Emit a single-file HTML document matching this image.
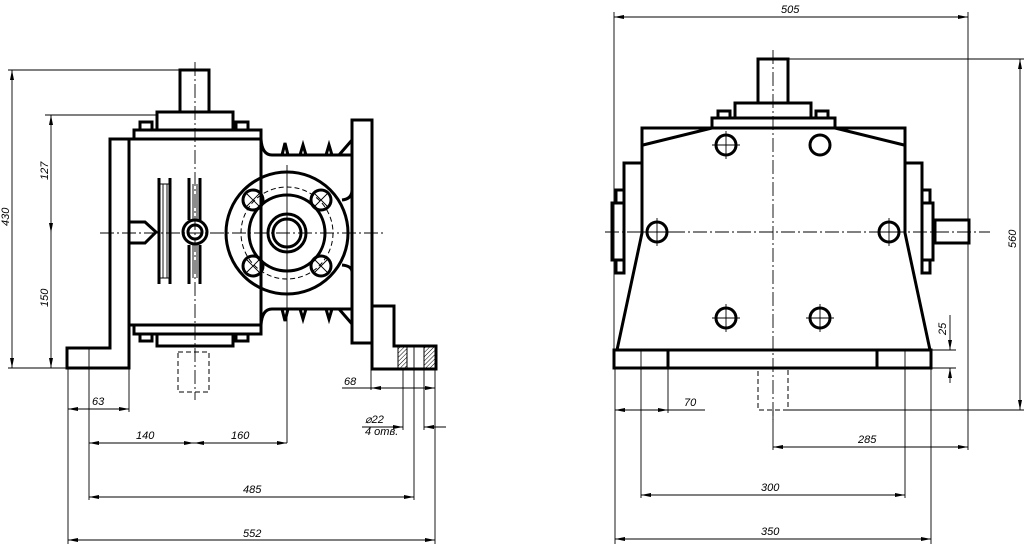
<!DOCTYPE html>
<html><head><meta charset="utf-8"><style>
html,body{margin:0;padding:0;background:#fff;width:1024px;height:544px;overflow:hidden}
svg{display:block}
text{font-family:"Liberation Sans",sans-serif;font-style:italic;font-size:11px;fill:#000}
.k{stroke:#000;stroke-width:3;fill:none}
.t{stroke:#000;stroke-width:0.9;fill:none}
.c{stroke:#000;stroke-width:0.9;fill:none;stroke-dasharray:14 3 2 3}
.d{stroke:#000;stroke-width:1;fill:none;stroke-dasharray:5 3}
</style></head><body>
<svg width="1024" height="544" viewBox="0 0 1024 544">
<defs><marker id="a" viewBox="0 0 10 4" refX="10" refY="2" markerWidth="12" markerHeight="4" orient="auto-start-reverse" markerUnits="userSpaceOnUse"><path d="M0,0 L10,2 L0,4z"/></marker>
<pattern id="h" width="3" height="3" patternUnits="userSpaceOnUse" patternTransform="rotate(45)"><line x1="0" y1="0" x2="0" y2="3" stroke="#000" stroke-width="1"/></pattern></defs>

<!-- ===== LEFT VIEW ===== -->
<g>
<rect class="k" x="180" y="70" width="29" height="42"/>
<rect class="k" x="157" y="112" width="76" height="18"/>
<rect class="k" x="134" y="130" width="127" height="9"/>
<rect class="k" x="140" y="122" width="12" height="8"/><rect class="k" x="236" y="122" width="12" height="8"/>
<rect class="k" x="129" y="139" width="132" height="186"/>
<rect class="k" x="134" y="325" width="127" height="9"/>
<rect class="k" x="157" y="334" width="76" height="12"/>
<rect class="k" x="140" y="334" width="12" height="7"/><rect class="k" x="236" y="334" width="12" height="7"/>
<path class="k" d="M129,139 H110 V348 H67 V368 H129 V325"/>
<path class="k" d="M261,139 Q262,155 272,155 H352 M261,325 Q262,309 272,309 H352"/>
<path class="k" d="M352,120 H372 V343 H352 Z"/>
<path class="k" d="M352,155 V190 Q352,199 342,200 M352,309 V272 Q352,266 342,265"/>
<path class="k" d="M372,306 H394 V346 H436 V369 H372 Z"/>
<rect x="398" y="347" width="9" height="21" fill="url(#h)" stroke="#000"/>
<rect x="424" y="347" width="11" height="21" fill="url(#h)" stroke="#000"/>
<line class="t" x1="414" y1="347" x2="414" y2="369"/><line class="t" x1="424" y1="347" x2="424" y2="369"/>
<path class="k" d="M282,155 l3,-12 l3,12 M300,155 l3,-10 l3,10 M326,155 l3,-10 l3,10 M339,155 l13,-15 M282,309 l3,12 l3,-12 M300,309 l3,10 l3,-10 M326,309 l3,10 l3,-10 M339,309 l13,15"/>
<circle class="k" cx="287" cy="233" r="61"/>
<circle class="d" cx="287" cy="233" r="46"/>
<circle class="k" cx="287" cy="233" r="38"/>
<circle class="k" cx="287" cy="233" r="19"/>
<circle class="k" cx="287" cy="233" r="14"/>
<g class="k"><circle cx="253" cy="200" r="10"/><circle cx="321" cy="200" r="10"/><circle cx="253" cy="266" r="10"/><circle cx="321" cy="266" r="10"/></g>
<g class="t"><path d="M247,194 l12,12 M259,194 l-12,12 M315,194 l12,12 M327,194 l-12,12 M247,260 l12,12 M259,260 l-12,12 M315,260 l12,12 M327,260 l-12,12"/></g>
<path class="k" d="M159,178 V284 M170,178 V284 M189,178 V220 M189,245 V284 M200,178 V220 M200,245 V284"/>
<path class="t" d="M163,184 V278 M167,184 V278 M159,184 H170 M159,278 H170 M193,184 V220 M197,184 V220 M193,245 V278 M197,245 V278"/>
<circle class="k" cx="195" cy="232" r="12"/><circle class="k" cx="195" cy="232" r="7"/>
<path class="k" d="M130,222 H145 L156,232 L145,243 H130"/>
<rect class="d" x="178" y="352" width="31" height="40"/>
<line class="c" x1="195" y1="62" x2="195" y2="400"/>
<line class="c" x1="100" y1="233" x2="384" y2="233"/>
<line class="t" x1="287" y1="165" x2="287" y2="443"/>
</g>

<!-- left dims -->
<g class="t">
<line x1="8" y1="70" x2="180" y2="70"/><line x1="45" y1="115" x2="157" y2="115"/><line x1="8" y1="368" x2="67" y2="368"/>
<line x1="12" y1="70" x2="12" y2="368" marker-start="url(#a)" marker-end="url(#a)"/>
<line x1="51" y1="115" x2="51" y2="233" marker-start="url(#a)" marker-end="url(#a)"/>
<line x1="51" y1="233" x2="51" y2="368" marker-end="url(#a)"/>
<line x1="68" y1="368" x2="68" y2="544"/><line x1="89" y1="348" x2="89" y2="500"/><line x1="129" y1="368" x2="129" y2="412"/>
<line x1="414" y1="369" x2="414" y2="500"/><line x1="435" y1="369" x2="435" y2="544"/><line x1="403" y1="369" x2="403" y2="430"/><line x1="424" y1="369" x2="424" y2="430"/><line x1="371" y1="369" x2="371" y2="390"/>
<line x1="68" y1="409" x2="129" y2="409" marker-start="url(#a)" marker-end="url(#a)"/>
<line x1="89" y1="443" x2="194" y2="443" marker-start="url(#a)" marker-end="url(#a)"/>
<line x1="194" y1="443" x2="287" y2="443" marker-start="url(#a)" marker-end="url(#a)"/>
<line x1="89" y1="497" x2="414" y2="497" marker-start="url(#a)" marker-end="url(#a)"/>
<line x1="68" y1="540" x2="435" y2="540" marker-start="url(#a)" marker-end="url(#a)"/>
<line x1="342" y1="388" x2="371" y2="388"/><line x1="371" y1="388" x2="435" y2="388" marker-start="url(#a)" marker-end="url(#a)"/>
<line x1="362" y1="427" x2="403" y2="427" marker-end="url(#a)"/><line x1="424" y1="427" x2="446" y2="427" marker-start="url(#a)"/>
</g>
<text x="9" y="226" transform="rotate(-90 9 226)" font-size="10">430</text>
<text x="48" y="180" transform="rotate(-90 48 180)" font-size="10">127</text>
<text x="48" y="307" transform="rotate(-90 48 307)" font-size="10">150</text>
<text x="92" y="405" font-size="10">63</text>
<text x="136" y="439" font-size="10">140</text>
<text x="231" y="439" font-size="10">160</text>
<text x="243" y="493" font-size="10">485</text>
<text x="243" y="537" font-size="10">552</text>
<text x="344" y="385" font-size="10">68</text>
<text x="365" y="423" font-size="9">⌀22</text>
<text x="365" y="435" font-size="9">4 отв.</text>

<!-- ===== RIGHT VIEW ===== -->
<g>
<rect class="k" x="758" y="59" width="30" height="44"/>
<rect class="k" x="735" y="103" width="76" height="15"/>
<rect class="k" x="712" y="118" width="123" height="10"/>
<rect class="k" x="718" y="111" width="12" height="7"/><rect class="k" x="816" y="111" width="12" height="7"/>
<path class="k" d="M642,128 H905 V233 L930,350 H617 L642,233 Z"/>
<path class="k" d="M643,145 L712,128 M904,145 L835,128"/>
<path class="k" d="M642,163 H624 V270 M905,163 H922 V270"/>
<rect class="k" x="612" y="203" width="12" height="57"/><rect class="k" x="922" y="203" width="11" height="57"/>
<rect class="k" x="616" y="190" width="8" height="13"/><rect class="k" x="616" y="260" width="8" height="13"/>
<rect class="k" x="922" y="190" width="8" height="13"/><rect class="k" x="922" y="260" width="8" height="13"/>
<rect class="k" x="935" y="220" width="34" height="23"/>
<rect class="k" x="614" y="350" width="317" height="18"/>
<rect class="k" x="614" y="350" width="54" height="18"/><rect class="k" x="877" y="350" width="54" height="18"/>
<g class="k"><circle cx="726" cy="145" r="10"/><circle cx="820" cy="145" r="10"/><circle cx="657" cy="232" r="10"/><circle cx="889" cy="232" r="10"/><circle cx="726" cy="318" r="10"/><circle cx="820" cy="318" r="10"/></g>
<g class="t"><path d="M712,145 h28 M726,131 v28 M643,232 h28 M657,218 v28 M875,232 h28 M889,218 v28 M712,318 h28 M726,304 v28 M806,318 h28 M820,304 v28"/></g>
<rect class="d" x="758" y="368" width="30" height="42"/>
<line class="c" x1="773" y1="50" x2="773" y2="420"/>
<line class="c" x1="605" y1="232" x2="990" y2="232"/>
</g>

<!-- right dims -->
<g class="t">
<line x1="614" y1="12" x2="614" y2="350"/><line x1="968" y1="12" x2="968" y2="220"/><line x1="968" y1="243" x2="968" y2="450"/>
<line x1="614" y1="17" x2="968" y2="17" marker-start="url(#a)" marker-end="url(#a)"/>
<line x1="788" y1="59" x2="1024" y2="59"/><line x1="788" y1="410" x2="1024" y2="410"/>
<line x1="1020" y1="59" x2="1020" y2="410" marker-start="url(#a)" marker-end="url(#a)"/>
<line x1="931" y1="350" x2="956" y2="350"/><line x1="931" y1="368" x2="956" y2="368"/>
<line x1="950" y1="315" x2="950" y2="350" marker-end="url(#a)"/><line x1="950" y1="368" x2="950" y2="383" marker-start="url(#a)"/>
<line x1="615" y1="368" x2="615" y2="544"/><line x1="641" y1="350" x2="641" y2="498"/><line x1="668" y1="368" x2="668" y2="413"/><line x1="905" y1="350" x2="905" y2="498"/><line x1="931" y1="368" x2="931" y2="544"/><line x1="773" y1="410" x2="773" y2="450"/>
<line x1="615" y1="410" x2="668" y2="410" marker-start="url(#a)" marker-end="url(#a)"/><line x1="668" y1="410" x2="705" y2="410"/>
<line x1="773" y1="447" x2="968" y2="447" marker-start="url(#a)" marker-end="url(#a)"/>
<line x1="641" y1="495" x2="905" y2="495" marker-start="url(#a)" marker-end="url(#a)"/>
<line x1="615" y1="539" x2="931" y2="539" marker-start="url(#a)" marker-end="url(#a)"/>
</g>
<text x="781" y="13" font-size="12">505</text>
<text x="1016" y="248" transform="rotate(-90 1016 248)" font-size="12">560</text>
<text x="946" y="335" transform="rotate(-90 946 335)" font-size="12">25</text>
<text x="684" y="406" font-size="13">70</text>
<text x="858" y="443" font-size="13">285</text>
<text x="761" y="491" font-size="13">300</text>
<text x="761" y="535" font-size="13">350</text>
</svg>
</body></html>
